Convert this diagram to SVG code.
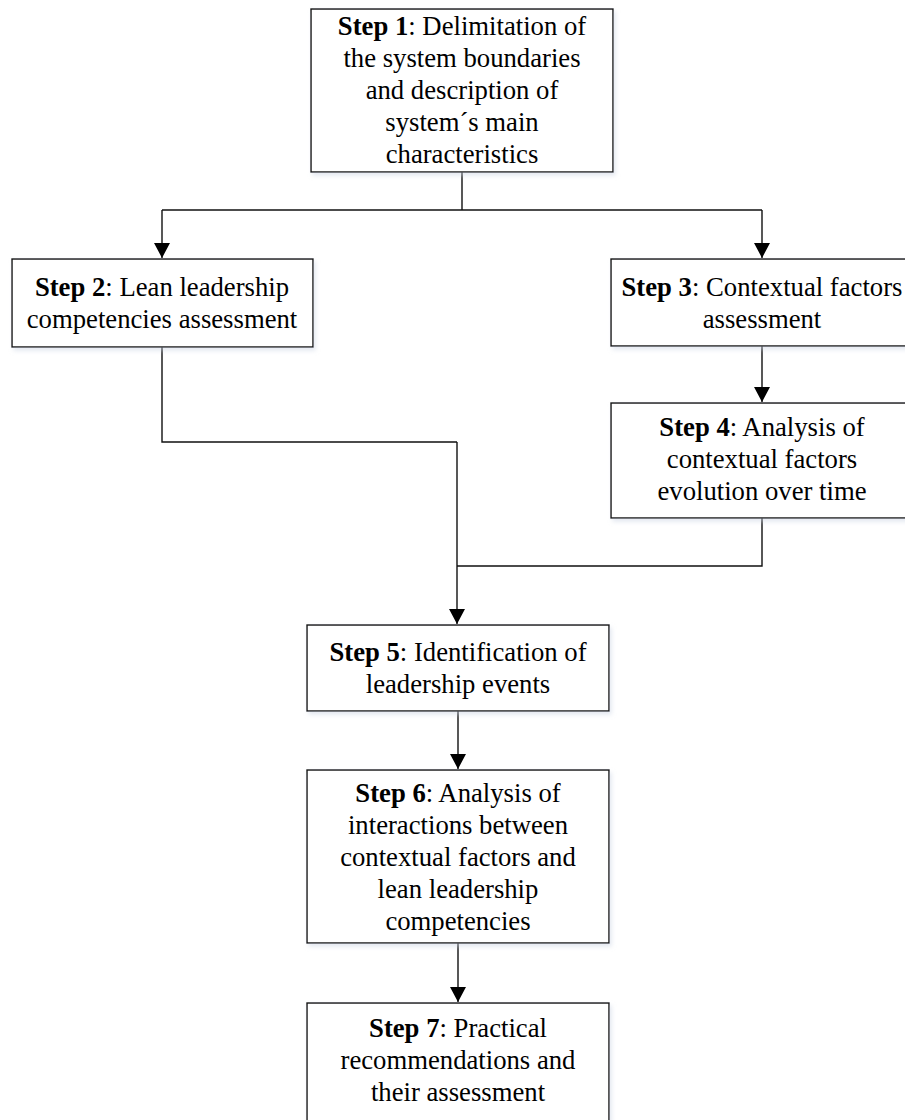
<svg xmlns="http://www.w3.org/2000/svg" width="905" height="1120" viewBox="0 0 905 1120">
<style>
.box{fill:#fff;stroke:#111;stroke-width:1.4;filter:url(#sh)}
.t{font-family:"Liberation Serif","Times New Roman",serif;font-size:26.7px;fill:#000;text-anchor:middle}
.b{font-weight:bold}
.c{fill:none;stroke:#111;stroke-width:1.4}
</style>
<defs>
<filter id="sh" x="-10%" y="-10%" width="120%" height="130%">
<feDropShadow dx="2" dy="3" stdDeviation="2" flood-color="#c9d2e3" flood-opacity="0.5"/>
</filter>
<marker id="ah" markerWidth="15" markerHeight="16" refX="15" refY="8" orient="auto" markerUnits="userSpaceOnUse" viewBox="0 0 15 16">
<path d="M0,0 L15,8 L0,16 Z" fill="#000"/>
</marker>
</defs>
<rect width="905" height="1120" fill="#fff"/>
<g id="connectors">
<path class="c" d="M462,172 V210"/>
<path class="c" d="M162,210 H762"/>
<path class="c" d="M162,210 V258" marker-end="url(#ah)"/>
<path class="c" d="M762,210 V258" marker-end="url(#ah)"/>
<path class="c" d="M762,346 V402" marker-end="url(#ah)"/>
<path class="c" d="M162,347 V442 H457"/>
<path class="c" d="M762,518 V566 H457"/>
<path class="c" d="M457,442 V624" marker-end="url(#ah)"/>
<path class="c" d="M458,711 V769" marker-end="url(#ah)"/>
<path class="c" d="M458,943 V1002" marker-end="url(#ah)"/>
</g>
<g id="step1">
<rect class="box" x="311" y="9" width="302" height="163"/>
<text class="t" x="462" y="35"><tspan class="b">Step 1</tspan>: Delimitation of</text>
<text class="t" x="462" y="67">the system boundaries</text>
<text class="t" x="462" y="99">and description of</text>
<text class="t" x="462" y="131">system´s main</text>
<text class="t" x="462" y="163">characteristics</text>
</g>
<g id="step2">
<rect class="box" x="12" y="259" width="301" height="88"/>
<text class="t" x="162" y="296"><tspan class="b">Step 2</tspan>: Lean leadership</text>
<text class="t" x="162" y="328">competencies assessment</text>
</g>
<g id="step3">
<rect class="box" x="611" y="259" width="302" height="87"/>
<text class="t" x="762" y="296"><tspan class="b">Step 3</tspan>: Contextual factors</text>
<text class="t" x="762" y="328">assessment</text>
</g>
<g id="step4">
<rect class="box" x="611" y="403" width="302" height="115"/>
<text class="t" x="762" y="436"><tspan class="b">Step 4</tspan>: Analysis of</text>
<text class="t" x="762" y="468">contextual factors</text>
<text class="t" x="762" y="500">evolution over time</text>
</g>
<g id="step5">
<rect class="box" x="307" y="625" width="302" height="86"/>
<text class="t" x="458" y="661"><tspan class="b">Step 5</tspan>: Identification of</text>
<text class="t" x="458" y="693">leadership events</text>
</g>
<g id="step6">
<rect class="box" x="307" y="770" width="302" height="173"/>
<text class="t" x="458" y="802"><tspan class="b">Step 6</tspan>: Analysis of</text>
<text class="t" x="458" y="834">interactions between</text>
<text class="t" x="458" y="866">contextual factors and</text>
<text class="t" x="458" y="898">lean leadership</text>
<text class="t" x="458" y="930">competencies</text>
</g>
<g id="step7">
<rect class="box" x="307" y="1003" width="302" height="130"/>
<text class="t" x="458" y="1037"><tspan class="b">Step 7</tspan>: Practical</text>
<text class="t" x="458" y="1069">recommendations and</text>
<text class="t" x="458" y="1101">their assessment</text>
</g>
</svg>
